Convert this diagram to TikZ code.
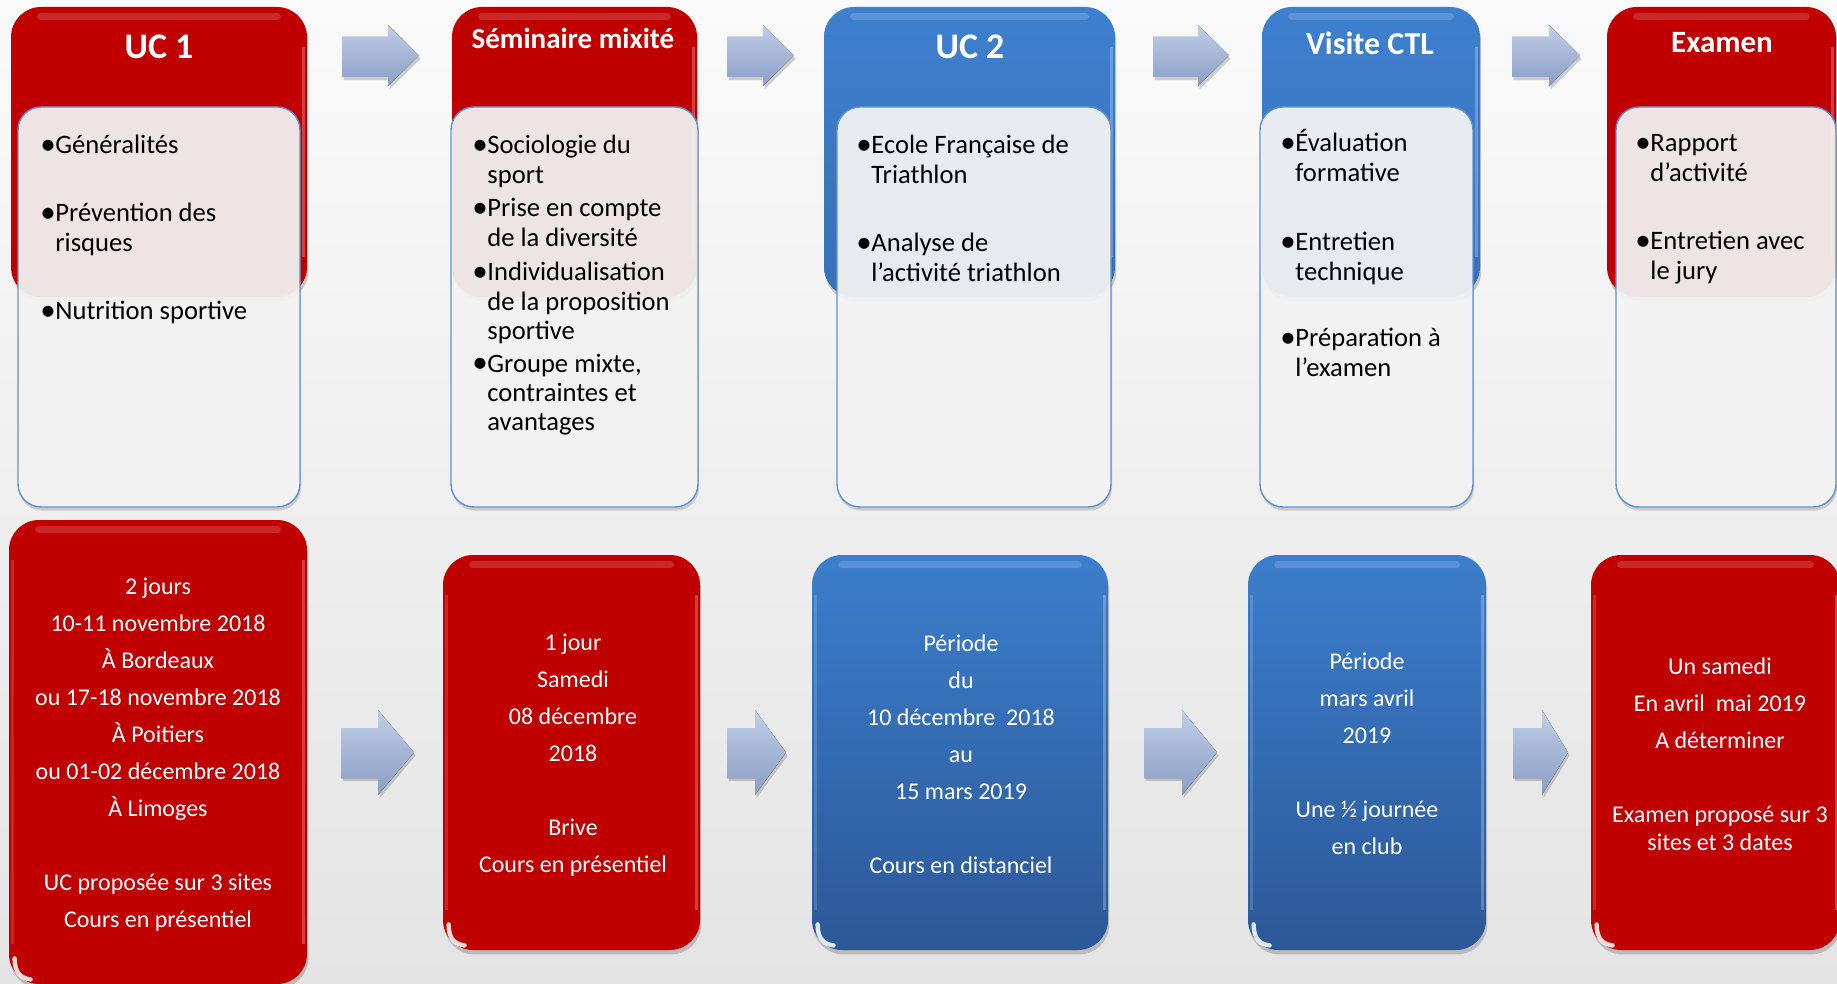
\documentclass[tikz,border=0pt]{standalone}
\usepackage{fontspec}
\setmainfont{Carlito}
\usetikzlibrary{shadows,calc}
\definecolor{bgT}{RGB}{250,250,250}
\definecolor{bgB}{RGB}{228,228,228}
\definecolor{ured}{RGB}{192,0,0}
\definecolor{hblueT}{RGB}{62,128,206}
\definecolor{hblueB}{RGB}{54,112,186}
\definecolor{bblueT}{RGB}{60,126,204}
\definecolor{bblueB}{RGB}{44,88,152}
\definecolor{innerfill}{RGB}{245,245,245}
\definecolor{innerline}{RGB}{96,146,206}
\definecolor{arrT}{RGB}{192,206,230}
\definecolor{arrB}{RGB}{138,158,198}
\newcommand{\bulletmark}{\makebox[5.5pt][l]{\hspace{-2pt}\raisebox{-0.4pt}{\fontsize{15.5}{15.5}\selectfont\textbullet}}}
\newcommand{\itm}[1]{\begin{tabular}[t]{@{}l@{}l@{}}\bulletmark&#1\end{tabular}}
\newcommand{\barr}[7]{%
  \fill[arrowbody] (#1,#5) -- (#2,#5) -- (#2,#4) -- (#3,{(#4+#7)/2}) -- (#2,#7) -- (#2,#6) -- (#1,#6) -- cycle;}
\newcommand{\gloss}[1]{%
  \draw[white, opacity=0.16, line width=3.5pt, line cap=round] ($(#1.north west)+(30,10)$) -- ($(#1.north east)+(-30,10)$);
  \draw[white, opacity=0.25, line width=1.2pt] ($(#1.north east)+(-4,40)$) -- ($(#1.south east)+(-4,-40)$);
  \draw[white, opacity=0.15, line width=1.2pt] ($(#1.north west)+(4,40)$) -- ($(#1.south west)+(4,-40)$);
  \draw[white, opacity=0.85, line width=2.2pt, line cap=round] ($(#1.south west)+(6,-26)$) .. controls ($(#1.south west)+(6,-12)$) and ($(#1.south west)+(12,-6)$) .. ($(#1.south west)+(22,-5)$);}
\tikzset{
  hdr/.style={rounded corners=15pt, inner sep=0pt, draw=none,
    drop shadow={shadow xshift=0.6pt, shadow yshift=-2.2pt, opacity=0.28, fill=black!70}},
  redhdr/.style={fill=ured},
  bluehdr/.style={top color=hblueT, bottom color=hblueB},
  bluebox/.style={top color=bblueT, bottom color=bblueB},
  inbox/.style={rounded corners=11.5pt, inner sep=0pt, fill=innerfill, fill opacity=0.93,
    draw=innerline, line width=0.7pt,
    drop shadow={shadow xshift=0.5pt, shadow yshift=-1.8pt, opacity=0.22, fill=black!70}},
  ttl/.style={text=white, inner sep=0pt, font=\bfseries\fontsize{#1}{#1}\selectfont},
  itemtext/.style={inner sep=0pt, text=black, anchor=base west, font=\fontsize{13.3}{14.6}\selectfont},
  btext/.style={inner sep=0pt, text=white, align=center, font=\fontsize{12}{18.5}\selectfont},
  arrowbody/.style={top color=arrT, bottom color=arrB,
    drop shadow={shadow xshift=0.8pt, shadow yshift=-1.6pt, opacity=0.3, fill=black!60}}
}
\begin{document}
\begin{tikzpicture}[x=0.5pt,y=-0.5pt]
\useasboundingbox (0,0) rectangle (1837,984);
\shade[top color=bgT, bottom color=bgB] (0,0) rectangle (1837,984);

% ---------- top row : headers ----------
\node[hdr, redhdr,  minimum width=148pt,   minimum height=145pt] (h1) at (159,152) {};
\node[hdr, redhdr,  minimum width=122.5pt, minimum height=145pt] (h2) at (574.5,152) {};
\node[hdr, bluehdr, minimum width=145.5pt, minimum height=145pt] (h3) at (969.5,152) {};
\node[hdr, bluehdr, minimum width=109pt,   minimum height=145pt] (h4) at (1371,152) {};
\node[hdr, redhdr,  minimum width=114.5pt, minimum height=145pt] (h5) at (1721.5,152) {};
\foreach \n in {h1,h2,h3,h4,h5} {\draw[white, opacity=0.16, line width=3.5pt, line cap=round] ($(\n.north west)+(30,10)$) -- ($(\n.north east)+(-30,10)$);
  \draw[white, opacity=0.25, line width=1.2pt] ($(\n.north east)+(-4,40)$) -- ($(\n.south east)+(-4,-40)$);}

\node[ttl=18]   (t1) at (159,47)  {UC 1};
\node[ttl=14.5] (t2) at (573,38)  {Séminaire mixité};
\node[ttl=18]   (t3) at (970,47)  {UC 2};
\node[ttl=16]   (t4) at (1370,43) {Visite CTL};
\node[ttl=15.5] (t5) at (1722,43) {Examen};

% ---------- top row : content boxes ----------
\node[inbox, minimum width=141pt,   minimum height=200pt] (i1) at (159,307) {};
\node[inbox, minimum width=123.5pt, minimum height=200pt] (i2) at (574.5,307) {};
\node[inbox, minimum width=137pt,   minimum height=200pt] (i3) at (974,307) {};
\node[inbox, minimum width=106.5pt, minimum height=200pt] (i4) at (1366.5,307) {};
\node[inbox, minimum width=110pt,   minimum height=200pt] (i5) at (1726,307) {};

\node[itemtext] (i1a) at (44,154) {\itm{Généralités}};
\node[itemtext] (i1b) at (44,222) {\itm{Prévention des\\&risques}};
\node[itemtext] (i1c) at (44,320) {\itm{Nutrition sportive}};

\node[itemtext] (i2a) at (476,154) {\itm{Sociologie du\\&sport}};
\node[itemtext] (i2b) at (476,217) {\itm{Prise en compte\\&de la diversité}};
\node[itemtext] (i2c) at (476,281) {\itm{Individualisation\\&de la proposition\\&sportive}};
\node[itemtext] (i2d) at (476,372) {\itm{Groupe mixte,\\&contraintes et\\&avantages}};

\node[itemtext] (i3a) at (860,154) {\itm{Ecole Française de\\&Triathlon}};
\node[itemtext] (i3b) at (860,252) {\itm{Analyse de\\&l’activité triathlon}};

\node[itemtext] (i4a) at (1284,152) {\itm{Évaluation\\&formative}};
\node[itemtext] (i4b) at (1284,251) {\itm{Entretien\\&technique}};
\node[itemtext] (i4c) at (1284,347) {\itm{Préparation à\\&l’examen}};

\node[itemtext] (i5a) at (1639,152) {\itm{Rapport\\&d’activité}};
\node[itemtext] (i5b) at (1639,250) {\itm{Entretien avec\\&le jury}};

% ---------- top row : arrows ----------
\barr{342}{388}{419}{25}{37}{77}{86}
\barr{727}{763}{794}{25}{37}{77}{86}
\barr{1153}{1198}{1229}{25}{37}{77}{86}
\barr{1512}{1549}{1580}{25}{37}{77}{86}

% ---------- bottom row : boxes ----------
\node[hdr, redhdr,   minimum width=149pt,   minimum height=232pt]   (b1) at (158,752) {};
\node[hdr, redhdr,   minimum width=128.5pt, minimum height=197.5pt] (b2) at (571.5,752.5) {};
\node[hdr, bluebox,  minimum width=148pt,   minimum height=197.5pt] (b3) at (960,752.5) {};
\node[hdr, bluebox,  minimum width=119pt,   minimum height=197.5pt] (b4) at (1367,752.5) {};
\node[hdr, redhdr,   minimum width=124.5pt, minimum height=197.5pt] (b5) at (1715.5,752.5) {};
\gloss{b1}\gloss{b2}\gloss{b3}\gloss{b4}\gloss{b5}

\node[btext] (b1t) at (158,755) {2 jours\\10-11 novembre 2018\\À Bordeaux\\ou 17-18 novembre 2018\\À Poitiers\\ou 01-02 décembre 2018\\À Limoges\\[18.5pt]UC proposée sur 3 sites\\Cours en présentiel};
\node[btext] (b2t) at (573,755) {1 jour\\Samedi\\08 décembre\\2018\\[18.5pt]Brive\\Cours en présentiel};
\node[btext] (b3t) at (961,754) {Période\\du\\10 décembre\ \ 2018\\au\\15 mars 2019\\[18.5pt]Cours en distanciel};
\node[btext] (b4t) at (1367,754) {Période\\mars avril\\2019\\[18.5pt]Une ½ journée\\en club};
\node[btext] (b5t) at (1720,754) {Un samedi\\En avril\ \ mai 2019\\A déterminer\\[18.5pt]Examen proposé sur 3\\[-4.5pt]sites et 3 dates};

% ---------- bottom row : arrows ----------
\barr{341}{378}{414}{710}{728}{778}{795}
\barr{727}{755}{786}{710}{728}{778}{795}
\barr{1144}{1182}{1217}{710}{728}{778}{795}
\barr{1513}{1542}{1568}{710}{728}{778}{795}
\end{tikzpicture}
\end{document}
